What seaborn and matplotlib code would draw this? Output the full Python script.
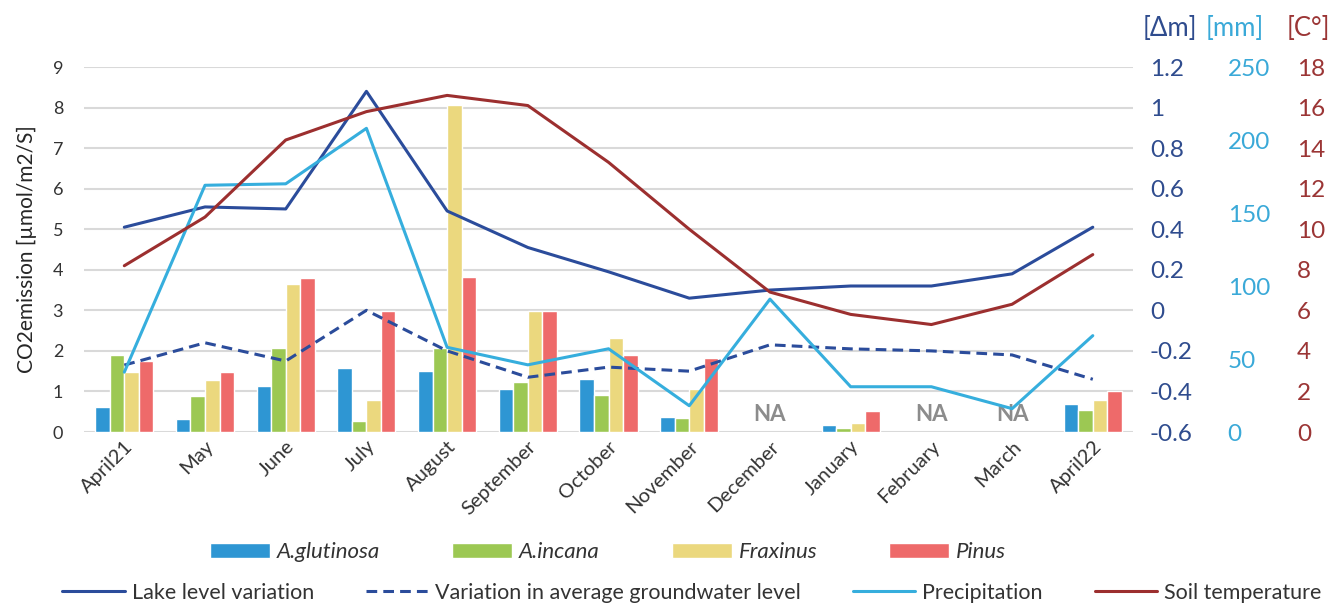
import numpy as np
import pandas as pd
import matplotlib
matplotlib.use("Agg")
import matplotlib.pyplot as plt
import seaborn as sns
from matplotlib.patches import Patch
from matplotlib.lines import Line2D

# -----------------------------
# Data
# -----------------------------
months = ["April21", "May", "June", "July", "August", "September", "October",
          "November", "December", "January", "February", "March", "April22"]

# CO2 emission per species [µmol/m2/S]; NaN = NA months
glutinosa = [0.62, 0.33, 1.13, 1.59, 1.50, 1.07, 1.31, 0.38, np.nan, 0.17, np.nan, np.nan, 0.69]
incana    = [1.89, 0.89, 2.08, 0.27, 2.08, 1.23, 0.91, 0.35, np.nan, 0.11, np.nan, np.nan, 0.55]
fraxinus  = [1.49, 1.29, 3.66, 0.78, 8.06, 2.98, 2.31, 1.07, np.nan, 0.22, np.nan, np.nan, 0.78]
pinus     = [1.76, 1.48, 3.79, 2.98, 3.83, 2.98, 1.89, 1.83, np.nan, 0.53, np.nan, np.nan, 1.01]

# lake level / groundwater variation [Δm]
lake_level  = [0.41, 0.51, 0.50, 1.08, 0.49, 0.31, 0.19, 0.06, 0.10, 0.12, 0.12, 0.18, 0.41]
groundwater = [-0.27, -0.16, -0.25, 0.00, -0.20, -0.33, -0.28, -0.30, -0.17, -0.19, -0.20, -0.22, -0.34]
# precipitation [mm]
precip = [41, 169, 170, 208, 58, 46, 57, 18, 91, 31, 31, 16, 66]
# soil temperature [C°]
soil_temp = [8.2, 10.6, 14.4, 15.8, 16.6, 16.1, 13.3, 10.0, 6.9, 5.8, 5.3, 6.3, 8.75]

species = ["A.glutinosa", "A.incana", "Fraxinus", "Pinus"]
na_months = ["December", "February", "March"]

dm_ticks = [-0.6, -0.4, -0.2, 0, 0.2, 0.4, 0.6, 0.8, 1, 1.2]
mm_ticks = [0, 50, 100, 150, 200, 250]
t_ticks = [0, 2, 4, 6, 8, 10, 12, 14, 16, 18]

# -----------------------------
# Style
# -----------------------------
bar_colors = ["#2E96D3", "#9CC853", "#EBD87E", "#EE6A6A"]
c_lake = "#2B4C9B"
c_precip = "#36AEDD"
c_temp = "#9C2F2F"
c_dm_lab = "#2F4C8E"
c_mm_lab = "#3AA9D8"
c_t_lab = "#9B3535"
dash = (0, (3.5, 2))

sns.set_style("white")
plt.rcParams["font.family"] = ["Lato", "DejaVu Sans"]
plt.rcParams["text.color"] = "#333333"

df = pd.DataFrame({"month": months, species[0]: glutinosa, species[1]: incana,
                   species[2]: fraxinus, species[3]: pinus})
bars_df = df.melt(id_vars="month", var_name="species", value_name="value")

fig, ax = plt.subplots(figsize=(13.41, 6.07), dpi=100)
fig.subplots_adjust(left=0.0626, right=0.845, bottom=0.2883, top=0.8896)

# -----------------------------
# Bars (left axis)
# -----------------------------
sns.barplot(data=bars_df, x="month", y="value", hue="species", order=months,
            hue_order=species, palette=bar_colors, width=0.72, saturation=1,
            errorbar=None, legend=False, ax=ax)
ax.set_xlim(-0.5, len(months) - 0.5)
ax.set_ylim(0, 9)
ax.set_yticks(range(10))
ax.yaxis.grid(True, color="#D9D9D9", lw=1.5)
ax.set_axisbelow(True)
ax.set_xlabel("")
ax.set_ylabel("CO2emission [µmol/m2/S]", fontsize=15, labelpad=11)
ax.tick_params(axis="y", length=0, labelsize=13, pad=15, labelcolor="#333333")
ax.tick_params(axis="x", length=0, labelsize=14.5, pad=4, labelcolor="#333333")
for lab in ax.get_xticklabels():
    lab.set_rotation(45)
    lab.set_ha("right")
    lab.set_rotation_mode("anchor")

for m in na_months:
    ax.text(months.index(m), 0.42, "NA", ha="center", va="center",
            fontsize=16, fontweight="bold", color="#8C8C8C")

# -----------------------------
# Lines (three right axes)
# -----------------------------
xpos = np.arange(len(months))

ax_dm = ax.twinx()
sns.lineplot(x=xpos, y=lake_level, ax=ax_dm, color=c_lake, lw=2.2)
sns.lineplot(x=xpos, y=groundwater, ax=ax_dm, color=c_lake, lw=2.2, linestyle=dash)
ax_dm.set_ylim(-0.6, 1.2)
ax_dm.set_yticks(dm_ticks)
ax_dm.set_yticklabels([f"{t:g}" for t in dm_ticks])
ax_dm.tick_params(axis="y", length=0, labelsize=17.5, pad=12, labelcolor=c_dm_lab)

ax_mm = ax.twinx()
sns.lineplot(x=xpos, y=precip, ax=ax_mm, color=c_precip, lw=2.2)
ax_mm.set_ylim(0, 250)
ax_mm.set_yticks(mm_ticks)
ax_mm.tick_params(axis="y", length=0, labelsize=17.5, pad=68, labelcolor=c_mm_lab)

ax_t = ax.twinx()
sns.lineplot(x=xpos, y=soil_temp, ax=ax_t, color=c_temp, lw=2.2)
ax_t.set_ylim(0, 18)
ax_t.set_yticks(t_ticks)
ax_t.tick_params(axis="y", length=0, labelsize=17.5, pad=118, labelcolor=c_t_lab)

for a in (ax, ax_dm, ax_mm, ax_t):
    for s in a.spines.values():
        s.set_visible(False)
for a in (ax_dm, ax_mm, ax_t):
    a.set_ylabel("")
    a.grid(False)

# axis unit headers
fig.text(1170 / 1341, 1 - 28 / 607, "[Δm]", ha="center", va="center", fontsize=18.5, color=c_dm_lab)
fig.text(1235 / 1341, 1 - 28 / 607, "[mm]", ha="center", va="center", fontsize=18.5, color=c_mm_lab)
fig.text(1308 / 1341, 1 - 28 / 607, "[C°]", ha="center", va="center", fontsize=18.5, color=c_t_lab)

# -----------------------------
# Legends
# -----------------------------
bar_handles = [Patch(facecolor=c, label=s) for c, s in zip(bar_colors, species)]
fig.legend(handles=bar_handles, loc="center", bbox_to_anchor=(608 / 1341, 1 - 552 / 607),
           ncol=4, frameon=False, prop={"style": "italic", "size": 16},
           handlelength=2.7, handleheight=0.64, handletextpad=0.3, columnspacing=3.25)

line_handles = [
    Line2D([], [], color=c_lake, lw=2.2, label="Lake level variation"),
    Line2D([], [], color=c_lake, lw=2.2, linestyle=dash,
           label="Variation in average groundwater level"),
    Line2D([], [], color=c_precip, lw=2.2, label="Precipitation"),
    Line2D([], [], color=c_temp, lw=2.2, label="Soil temperature"),
]
fig.legend(handles=line_handles, loc="center", bbox_to_anchor=(692 / 1341, 1 - 593 / 607),
           ncol=4, frameon=False, fontsize=15.5, handlelength=2.9,
           handletextpad=0.33, columnspacing=2.4)

fig.savefig("out.png", dpi=100)
